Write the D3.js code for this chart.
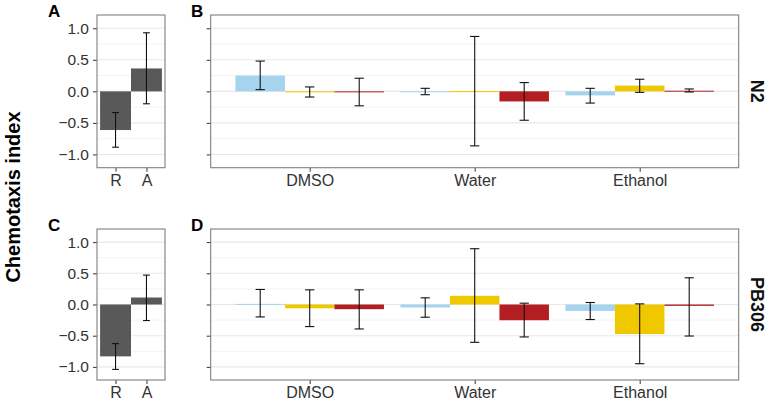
<!DOCTYPE html>
<html><head><meta charset="utf-8">
<script src="https://cdn.jsdelivr.net/npm/d3@7"></script>
<style>body{margin:0;background:#fff}svg{display:block}text{font-family:"Liberation Sans",Arial,sans-serif}</style>
</head><body><svg id="c" width="769" height="404"></svg>
<script>
// ---------- data ----------
const controlCats = ["R", "A"];
const solvents = ["DMSO", "Water", "Ethanol"];
const strains = ["N2", "PB306"];
const conditions = ["c1", "c2", "c3"];
const conditionColors = ["#a6d4ee", "#f0c800", "#b31e23"];
const yTicks = [-1.0, -0.5, 0.0, 0.5, 1.0];
const yMinor = [-0.75, -0.25, 0.25, 0.75];

// N2 control (panel A)
const n2Ctrl = [-0.613, 0.363];
const n2CtrlLo = [-0.885, -0.197];
const n2CtrlHi = [-0.336, 0.928];
// PB306 control (panel C)
const pbCtrl = [-0.831, 0.112];
const pbCtrlLo = [-1.04, -0.257];
const pbCtrlHi = [-0.627, 0.471];

// N2 solvents (panel B): per condition, values over solvents
const n2c1 = [0.251, -0.004, -0.064], n2c1Lo = [0.027, -0.053, -0.186], n2c1Hi = [0.48, 0.048, 0.048];
const n2c2 = [-0.015, 0.004, 0.091], n2c2Lo = [-0.09, -0.864, -0.016], n2c2Hi = [0.07, 0.87, 0.192];
const n2c3 = [-0.005, -0.16, 0.01], n2c3Lo = [-0.229, -0.458, -0.01], n2c3Hi = [0.208, 0.139, 0.038];
// PB306 solvents (panel D)
const pbc1 = [0.01, -0.048, -0.103], pbc1Lo = [-0.199, -0.204, -0.241], pbc1Hi = [0.241, 0.107, 0.032];
const pbc2 = [-0.06, 0.139, -0.473], pbc2Lo = [-0.354, -0.606, -0.949], pbc2Hi = [0.235, 0.894, 0.01];
const pbc3 = [-0.075, -0.252, -0.022], pbc3Lo = [-0.392, -0.52, -0.505], pbc3Hi = [0.235, 0.021, 0.428];

// ---------- build ----------
const rows = [
  {strain: strains[0], letters: ["A", "B"], top: 15, bottom: 167.7,
   ctrl: controlCats.map((c, i) => ({cat: c, v: n2Ctrl[i], lo: n2CtrlLo[i], hi: n2CtrlHi[i]})),
   sol: [[n2c1, n2c1Lo, n2c1Hi], [n2c2, n2c2Lo, n2c2Hi], [n2c3, n2c3Lo, n2c3Hi]]},
  {strain: strains[1], letters: ["C", "D"], top: 229, bottom: 380,
   ctrl: controlCats.map((c, i) => ({cat: c, v: pbCtrl[i], lo: pbCtrlLo[i], hi: pbCtrlHi[i]})),
   sol: [[pbc1, pbc1Lo, pbc1Hi], [pbc2, pbc2Lo, pbc2Hi], [pbc3, pbc3Lo, pbc3Hi]]}
];

const svg = d3.select("#c");
const leftX = [97, 165], rightX = [210.7, 738.7];
const borderCol = "#7f7f7f", tickCol = "#333", textCol = "#222";

function panel(g, x0, x1, y, withLabels) {
  // grid
  g.selectAll(".mi").data(yMinor).join("line").attr("x1", x0).attr("x2", x1)
    .attr("y1", d => y(d)).attr("y2", d => y(d)).attr("stroke", "#f3f3f3").attr("stroke-width", 1);
  g.selectAll(".ma").data(yTicks).join("line").attr("class", "ma").attr("x1", x0).attr("x2", x1)
    .attr("y1", d => y(d)).attr("y2", d => y(d)).attr("stroke", "#e8e8e8").attr("stroke-width", 1.1);
  // y axis ticks
  const ax = d3.axisLeft(y).tickValues(yTicks).tickSize(4).tickPadding(4)
    .tickFormat(withLabels ? (d => d3.format(".1f")(d).replace("-", "\u2212")) : "");
  const a = g.append("g").attr("transform", `translate(${x0},0)`).call(ax);
  a.select(".domain").remove();
  a.selectAll("line").attr("stroke", tickCol);
  a.selectAll("text").attr("font-size", 15.5).attr("fill", "#333");
}

rows.forEach(r => {
  const y = d3.scaleLinear().domain([-1.21, 1.21]).range([r.bottom, r.top]);
  // ---- control panel ----
  const gA = svg.append("g");
  panel(gA, leftX[0], leftX[1], y, true);
  const xA = d3.scaleLinear().domain([0.4, controlCats.length + 0.6]).range(leftX);
  gA.selectAll(".bar").data(r.ctrl).join("rect")
    .attr("x", (d, i) => xA(i + 1 - 0.5)).attr("width", xA(1) - xA(0))
    .attr("y", d => y(Math.max(0, d.v))).attr("height", d => Math.abs(y(d.v) - y(0)))
    .attr("fill", "#595959");
  const capA = (xA(1) - xA(0)) * 0.11;
  r.ctrl.forEach((d, i) => {
    const cx = xA(i + 1);
    const eg = gA.append("g").attr("stroke", "#111").attr("stroke-width", 1.1);
    eg.append("line").attr("x1", cx).attr("x2", cx).attr("y1", y(d.lo)).attr("y2", y(d.hi));
    eg.append("line").attr("x1", cx - capA).attr("x2", cx + capA).attr("y1", y(d.lo)).attr("y2", y(d.lo));
    eg.append("line").attr("x1", cx - capA).attr("x2", cx + capA).attr("y1", y(d.hi)).attr("y2", y(d.hi));
  });
  const axA = d3.axisBottom(xA).tickValues(controlCats.map((c, i) => i + 1)).tickSize(4).tickPadding(3)
    .tickFormat(d => controlCats[d - 1]);
  const aa = gA.append("g").attr("transform", `translate(0,${r.bottom})`).call(axA);
  aa.select(".domain").remove();
  aa.selectAll("line").attr("stroke", tickCol);
  aa.selectAll("text").attr("font-size", 16).attr("fill", "#333");
  gA.append("rect").attr("x", leftX[0]).attr("y", r.top).attr("width", leftX[1] - leftX[0])
    .attr("height", r.bottom - r.top).attr("fill", "none").attr("stroke", borderCol).attr("stroke-width", 1.1);
  svg.append("text").attr("x", 48).attr("y", r.top + 2).attr("font-size", 17).attr("font-weight", "bold")
    .attr("fill", "#000").text(r.letters[0]);

  // ---- solvent panel ----
  const gB = svg.append("g");
  panel(gB, rightX[0], rightX[1], y, false);
  const xB = d3.scaleLinear().domain([0.4, solvents.length + 0.6]).range(rightX);
  const bw = 0.3;
  conditions.forEach((c, k) => {
    const [vals, los, his] = r.sol[k];
    const data = solvents.map((s, i) => ({s, i, v: vals[i], lo: los[i], hi: his[i]}));
    const off = (k - 1) * bw;
    gB.selectAll(".b" + k).data(data).join("rect")
      .attr("x", d => xB(d.i + 1 + off - bw / 2)).attr("width", xB(bw) - xB(0))
      .attr("y", d => y(Math.max(0, d.v))).attr("height", d => Math.max(1, Math.abs(y(d.v) - y(0))))
      .attr("fill", conditionColors[k]);
    data.forEach(d => {
      const cx = xB(d.i + 1 + off), cap = (xB(1) - xB(0)) * 0.028;
      const eg = gB.append("g").attr("stroke", "#111").attr("stroke-width", 1.1);
      eg.append("line").attr("x1", cx).attr("x2", cx).attr("y1", y(d.lo)).attr("y2", y(d.hi));
      eg.append("line").attr("x1", cx - cap).attr("x2", cx + cap).attr("y1", y(d.lo)).attr("y2", y(d.lo));
      eg.append("line").attr("x1", cx - cap).attr("x2", cx + cap).attr("y1", y(d.hi)).attr("y2", y(d.hi));
    });
  });
  const axB = d3.axisBottom(xB).tickValues(solvents.map((s, i) => i + 1)).tickSize(4).tickPadding(3)
    .tickFormat(d => solvents[d - 1]);
  const ab = gB.append("g").attr("transform", `translate(0,${r.bottom})`).call(axB);
  ab.select(".domain").remove();
  ab.selectAll("line").attr("stroke", tickCol);
  ab.selectAll("text").attr("font-size", 16).attr("fill", "#333");
  gB.append("rect").attr("x", rightX[0]).attr("y", r.top).attr("width", rightX[1] - rightX[0])
    .attr("height", r.bottom - r.top).attr("fill", "none").attr("stroke", borderCol).attr("stroke-width", 1.1);
  svg.append("text").attr("x", 191).attr("y", r.top + 2).attr("font-size", 17).attr("font-weight", "bold")
    .attr("fill", "#000").text(r.letters[1]);
  // strip label
  const cy = (r.top + r.bottom) / 2;
  svg.append("text").attr("transform", `translate(751,${cy}) rotate(90)`).attr("text-anchor", "middle")
    .attr("font-size", 18).attr("font-weight", "bold").attr("fill", "#111").text(r.strain);
});

svg.append("text").attr("transform", "translate(20,197) rotate(-90)").attr("text-anchor", "middle")
  .attr("font-size", 20).attr("font-weight", "bold").attr("fill", "#000").text("Chemotaxis index");
</script></body></html>
